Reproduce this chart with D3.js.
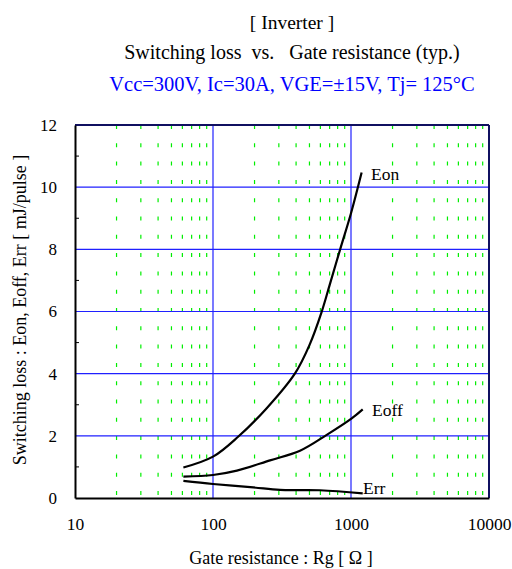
<!DOCTYPE html>
<html><head><meta charset="utf-8">
<script src="https://cdn.jsdelivr.net/npm/d3@7"></script>
<style>body{margin:0;background:#fff}svg{display:block}text{font-family:"Liberation Serif","Times New Roman",serif;white-space:pre}</style>
</head><body><div id="chart"></div>
<script>
const xTicks = [10, 100, 1000, 10000];
const yTicks = [0, 2, 4, 6, 8, 10, 12];
const eonRg  = [61, 100, 152, 245, 393, 500, 613, 700, 832, 1000, 1194];
const eonVal = [0.98, 1.33, 1.97, 2.89, 4.01, 4.92, 5.99, 6.85, 7.98, 9.16, 10.47];
const eoffRg  = [61, 100, 149, 259, 427, 667, 1012, 1216];
const eoffVal = [0.69, 0.74, 0.88, 1.21, 1.52, 2.03, 2.56, 2.85];
const errRg  = [61, 100, 196, 306, 596, 1216];
const errVal = [0.55, 0.45, 0.34, 0.26, 0.25, 0.15];
const seriesNames = ["Eon", "Eoff", "Err"];

const W = 512, H = 569;
const m = {left: 75, right: 23, top: 125, bottom: 71};
const svg = d3.select("#chart").append("svg").attr("width", W).attr("height", H);
const x = d3.scaleLog().domain([10, 10000]).range([m.left, W - m.right]);
const y = d3.scaleLinear().domain([0, 12]).range([H - m.bottom, m.top]);

// titles
svg.append("text").attr("x", 292).attr("y", 29).attr("text-anchor", "middle").attr("font-size", 19.5).text("[ Inverter ]");
svg.append("text").attr("x", 292).attr("y", 59).attr("text-anchor", "middle").attr("font-size", 20).text("Switching loss  vs.   Gate resistance (typ.)");
svg.append("text").attr("x", 292).attr("y", 91).attr("text-anchor", "middle").attr("font-size", 20.5).attr("fill", "#0000ff").text("Vcc=300V, Ic=30A, VGE=±15V, Tj= 125°C");

// minor green dashed verticals
const minors = [];
[10, 100, 1000].forEach(d => { for (let k = 2; k <= 9; k++) minors.push(d * k); });
svg.append("g").selectAll("line").data(minors).join("line")
  .attr("x1", d => x(d)).attr("x2", d => x(d))
  .attr("y1", y(12)).attr("y2", y(0))
  .attr("stroke", "#00ee00").attr("stroke-width", 1.2)
  .attr("stroke-dasharray", "4,14.3");

// blue grid
svg.append("g").selectAll("line").data([2, 4, 6, 8, 10]).join("line")
  .attr("x1", x(10)).attr("x2", x(10000)).attr("y1", d => y(d)).attr("y2", d => y(d))
  .attr("stroke", "#2020ff").attr("stroke-width", 1.2);
svg.append("g").selectAll("line").data([100, 1000]).join("line")
  .attr("x1", d => x(d)).attr("x2", d => x(d)).attr("y1", y(0)).attr("y2", y(12))
  .attr("stroke", "#2020ff").attr("stroke-width", 1.2);

// frame top/right
svg.append("line").attr("x1", x(10)).attr("x2", x(10000)).attr("y1", y(12)).attr("y2", y(12)).attr("stroke", "#101060").attr("stroke-width", 2);
svg.append("line").attr("x1", x(10000)).attr("x2", x(10000)).attr("y1", y(0)).attr("y2", y(12)).attr("stroke", "#101060").attr("stroke-width", 2);

// axes
const yAxis = d3.axisLeft(y).tickValues(yTicks).tickSize(0).tickPadding(18).tickFormat(d3.format("d"));
const gy = svg.append("g").attr("transform", `translate(${m.left},0)`).call(yAxis);
gy.select(".domain").attr("stroke", "#000").attr("stroke-width", 2);
gy.selectAll("text").attr("font-size", 17).attr("font-family", "Liberation Serif").attr("fill", "#000");
// minor y ticks inward
svg.append("g").selectAll("line").data([1, 3, 5, 7, 9, 11]).join("line")
  .attr("x1", m.left).attr("x2", m.left + 4).attr("y1", d => y(d)).attr("y2", d => y(d))
  .attr("stroke", "#000").attr("stroke-width", 1);

const xAxis = d3.axisBottom(x).tickValues(xTicks).tickSize(0).tickPadding(20).tickFormat(d3.format("d"));
const gx = svg.append("g").attr("transform", `translate(0,${H - m.bottom})`).call(xAxis);
gx.select(".domain").attr("stroke", "#000").attr("stroke-width", 2);
gx.selectAll("text").attr("font-size", 17.5).attr("font-family", "Liberation Serif").attr("fill", "#000");

// axis titles
svg.append("text").attr("x", 281).attr("y", 564).attr("text-anchor", "middle").attr("font-size", 18).text("Gate resistance : Rg [ Ω ]");
svg.append("text").attr("transform", "translate(26,310) rotate(-90)").attr("text-anchor", "middle").attr("font-size", 18).text("Switching loss : Eon, Eoff, Err [ mJ/pulse ]");

// curves
const series = [
  {name: seriesNames[0], rg: eonRg, v: eonVal, lx: 371, ly: 180},
  {name: seriesNames[1], rg: eoffRg, v: eoffVal, lx: 372, ly: 416},
  {name: seriesNames[2], rg: errRg, v: errVal, lx: 363, ly: 494}
];
const line = d3.line().x(d => x(d[0])).y(d => y(d[1])).curve(d3.curveCatmullRom.alpha(0.5));
series.forEach(s => {
  const pts = s.rg.map((r, i) => [r, s.v[i]]);
  svg.append("path").attr("d", line(pts)).attr("fill", "none").attr("stroke", "#000").attr("stroke-width", 2.2);
  svg.append("text").attr("x", s.lx).attr("y", s.ly).attr("font-size", 17.5).text(s.name);
});
</script></body></html>
